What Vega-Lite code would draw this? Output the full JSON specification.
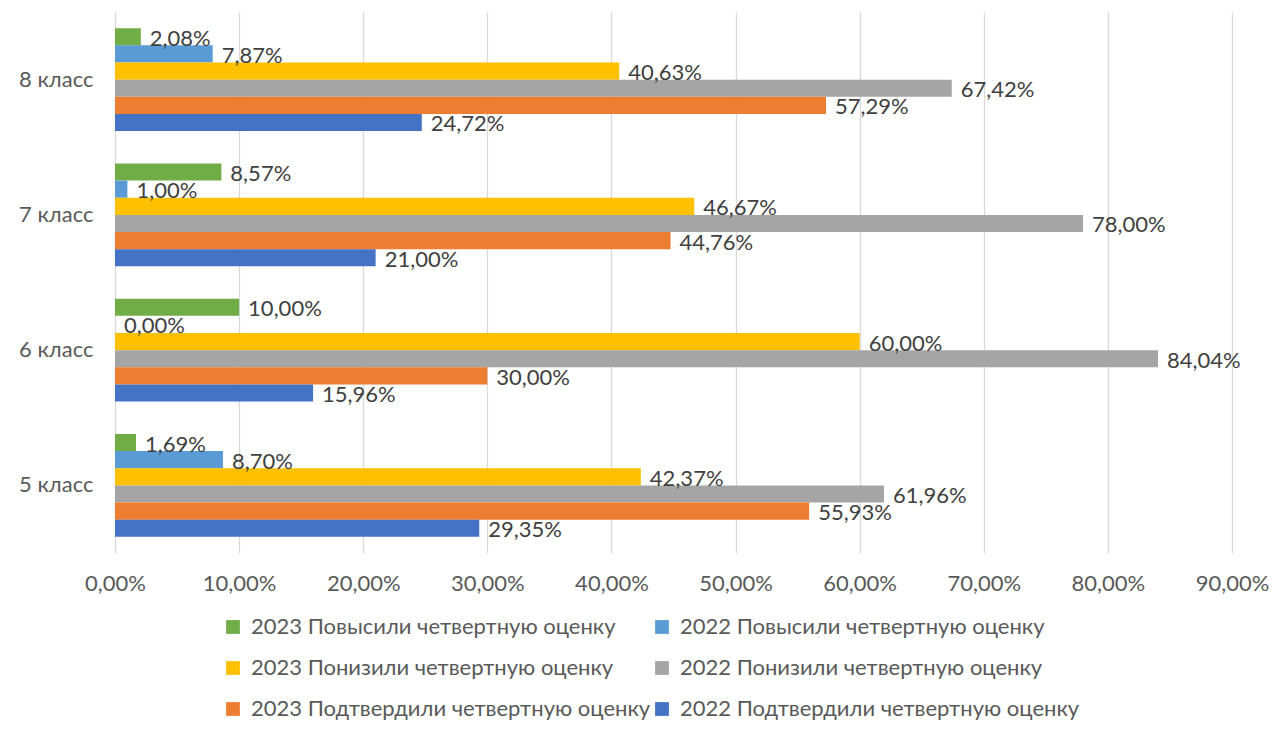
{
  "$schema": "https://vega.github.io/schema/vega-lite/v6.json",
  "width": 1117,
  "height": 541,
  "autosize": "none",
  "padding": {"left": 115, "top": 12, "right": 42, "bottom": 176},
  "background": "white",
  "config": {
    "locale": {"number": {"decimal": ",", "thousands": " ", "grouping": [3], "currency": ["", " ₽"]}},
    "view": {"stroke": null},
    "font": "Lato"
  },
  "data": {
    "values": [
      {"klass": "8 класс", "series": "2023 Повысили четвертную оценку", "value": 0.0208},
      {"klass": "8 класс", "series": "2022 Повысили четвертную оценку", "value": 0.0787},
      {"klass": "8 класс", "series": "2023 Понизили четвертную оценку", "value": 0.4063},
      {"klass": "8 класс", "series": "2022 Понизили четвертную оценку", "value": 0.6742},
      {"klass": "8 класс", "series": "2023 Подтвердили четвертную оценку", "value": 0.5729},
      {"klass": "8 класс", "series": "2022 Подтвердили четвертную оценку", "value": 0.2472},
      {"klass": "7 класс", "series": "2023 Повысили четвертную оценку", "value": 0.0857},
      {"klass": "7 класс", "series": "2022 Повысили четвертную оценку", "value": 0.01},
      {"klass": "7 класс", "series": "2023 Понизили четвертную оценку", "value": 0.4667},
      {"klass": "7 класс", "series": "2022 Понизили четвертную оценку", "value": 0.78},
      {"klass": "7 класс", "series": "2023 Подтвердили четвертную оценку", "value": 0.4476},
      {"klass": "7 класс", "series": "2022 Подтвердили четвертную оценку", "value": 0.21},
      {"klass": "6 класс", "series": "2023 Повысили четвертную оценку", "value": 0.10},
      {"klass": "6 класс", "series": "2022 Повысили четвертную оценку", "value": 0.0},
      {"klass": "6 класс", "series": "2023 Понизили четвертную оценку", "value": 0.60},
      {"klass": "6 класс", "series": "2022 Понизили четвертную оценку", "value": 0.8404},
      {"klass": "6 класс", "series": "2023 Подтвердили четвертную оценку", "value": 0.30},
      {"klass": "6 класс", "series": "2022 Подтвердили четвертную оценку", "value": 0.1596},
      {"klass": "5 класс", "series": "2023 Повысили четвертную оценку", "value": 0.0169},
      {"klass": "5 класс", "series": "2022 Повысили четвертную оценку", "value": 0.087},
      {"klass": "5 класс", "series": "2023 Понизили четвертную оценку", "value": 0.4237},
      {"klass": "5 класс", "series": "2022 Понизили четвертную оценку", "value": 0.6196},
      {"klass": "5 класс", "series": "2023 Подтвердили четвертную оценку", "value": 0.5593},
      {"klass": "5 класс", "series": "2022 Подтвердили четвертную оценку", "value": 0.2935}
    ]
  },
  "encoding": {
    "y": {
      "field": "klass", "type": "nominal",
      "sort": ["8 класс", "7 класс", "6 класс", "5 класс"],
      "scale": {"paddingInner": 0.24, "paddingOuter": 0.12},
      "axis": {"title": null, "ticks": false, "domain": false, "labelFontSize": 22, "labelColor": "#595959", "labelPadding": 22, "labelFont": "Lato"}
    },
    "x": {
      "field": "value", "type": "quantitative",
      "scale": {"domain": [0, 0.9], "nice": false},
      "axis": {"title": null, "format": ".2%", "values": [0, 0.1, 0.2, 0.3, 0.4, 0.5, 0.6, 0.7, 0.8, 0.9], "ticks": false, "domain": false, "grid": true, "gridColor": "#D9D9D9", "gridWidth": 1.3, "labelFontSize": 22, "labelColor": "#595959", "labelPadding": 20, "labelFont": "Lato", "labelFlush": false}
    },
    "yOffset": {
      "field": "series", "type": "nominal",
      "sort": ["2023 Повысили четвертную оценку", "2022 Повысили четвертную оценку", "2023 Понизили четвертную оценку", "2022 Понизили четвертную оценку", "2023 Подтвердили четвертную оценку", "2022 Подтвердили четвертную оценку"],
      "scale": {"paddingInner": 0, "paddingOuter": 0}
    }
  },
  "layer": [
    {
      "mark": {"type": "bar"},
      "encoding": {
        "color": {
          "field": "series", "type": "nominal",
          "scale": {
            "domain": ["2023 Повысили четвертную оценку", "2023 Понизили четвертную оценку", "2023 Подтвердили четвертную оценку", "2022 Повысили четвертную оценку", "2022 Понизили четвертную оценку", "2022 Подтвердили четвертную оценку"],
            "range": ["#70AD47", "#FFC000", "#ED7D31", "#5B9BD5", "#A5A5A5", "#4472C4"]
          },
          "legend": {
            "title": null, "orient": "none", "legendX": 107, "legendY": 604, "columns": 2,
            "symbolType": "square", "symbolSize": 190, "symbolStrokeWidth": 0,
            "labelFontSize": 22, "labelColor": "#595959", "labelFont": "Lato", "labelLimit": 600,
            "labelOffset": 7, "rowPadding": 19, "columnPadding": -12
          }
        }
      }
    },
    {
      "mark": {"type": "text", "align": "left", "baseline": "middle", "dx": 9, "dy": 2, "fontSize": 22, "color": "#404040", "font": "Lato"},
      "encoding": {
        "text": {"field": "value", "type": "quantitative", "format": ".2%"}
      }
    }
  ]
}
